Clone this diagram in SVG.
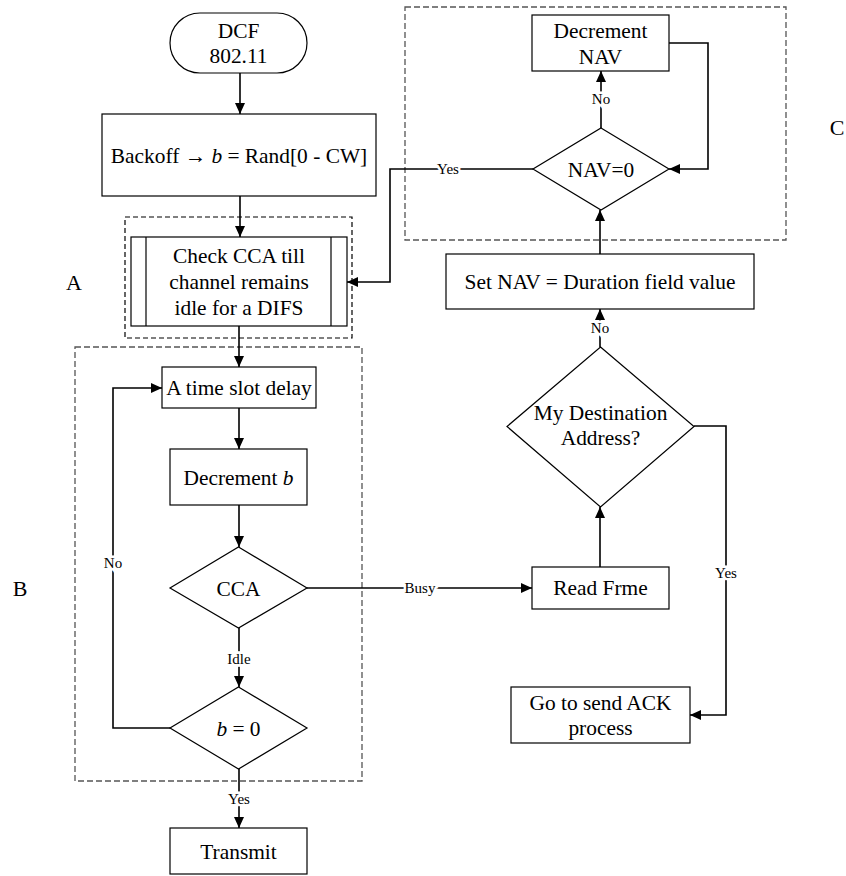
<svg xmlns="http://www.w3.org/2000/svg" width="846" height="876" viewBox="0 0 846 876">
<style>
.n{fill:#fff;stroke:#000;stroke-width:1.2}
.t{font-family:'Liberation Serif','Times New Roman','DejaVu Serif',serif;font-size:21.4px;fill:#000;text-anchor:middle}
.lab{font-family:'Liberation Serif','Times New Roman','DejaVu Serif',serif;font-size:15px;fill:#000;text-anchor:middle;stroke:#fff;stroke-width:5;paint-order:stroke;dominant-baseline:central}
.big{font-family:'Liberation Serif','Times New Roman','DejaVu Serif',serif;font-size:22px;fill:#000;text-anchor:middle}
.ca{fill:none;stroke:#000;stroke-width:1.6;marker-end:url(#ah)}
.g{fill:none;stroke:#555;stroke-width:1.3;stroke-dasharray:6,3}
.gk{fill:none;stroke:#000;stroke-width:1.2;stroke-dasharray:5,3}
</style>
<defs>
<marker id="ah" markerUnits="userSpaceOnUse" markerWidth="12" markerHeight="10" refX="11" refY="5" orient="auto">
<path d="M0,0 L11,5 L0,10 z" fill="#000"/>
</marker>
</defs>
<rect width="846" height="876" fill="#fff"/>

<g id="groups">
<rect class="gk" x="125" y="217" width="227" height="121"/>
<rect class="g" x="75" y="347" width="287" height="434"/>
<rect class="g" x="405" y="7" width="381" height="233"/>
<text class="big" x="74" y="290">A</text>
<text class="big" x="20" y="596">B</text>
<text class="big" x="837" y="135">C</text>
</g>

<g id="connectors">
<path class="ca" d="M240,73 V114"/>
<path class="ca" d="M240,196 V237"/>
<path class="ca" d="M239,326 V367"/>
<path class="ca" d="M239,408 V449"/>
<path class="ca" d="M239,505 V547"/>
<path class="ca" d="M239,628 V687"/>
<path class="ca" d="M239,769 V828"/>
<path class="ca" d="M170,728 H113 V388 H162"/>
<path class="ca" d="M307,588 H532"/>
<path class="ca" d="M600,567 V507"/>
<path class="ca" d="M694,426 H726 V715 H690"/>
<path class="ca" d="M600,347 V309"/>
<path class="ca" d="M600,254 V210"/>
<path class="ca" d="M601,128 V71"/>
<path class="ca" d="M669,43 H708 V169 H669"/>
<path class="ca" d="M533,169 H390 V282 H347"/>
<text class="lab" x="239" y="659">Idle</text>
<text class="lab" x="239" y="799">Yes</text>
<text class="lab" x="113" y="563">No</text>
<text class="lab" x="420" y="588">Busy</text>
<text class="lab" x="726" y="573">Yes</text>
<text class="lab" x="600" y="328">No</text>
<text class="lab" x="601" y="99">No</text>
<text class="lab" x="448" y="169">Yes</text>
</g>

<g id="dcf">
<rect class="n" x="170" y="13" width="137" height="60" rx="30" ry="30"/>
<text class="t" x="238.5" y="38">DCF</text>
<text class="t" x="238.5" y="63">802.11</text>
</g>

<g id="backoff">
<rect class="n" x="102" y="114" width="274" height="82"/>
<text class="t" x="239" y="163">Backoff → <tspan font-style="italic">b</tspan> = Rand[0 - CW]</text>
</g>

<g id="checkcca">
<rect class="n" x="131" y="237" width="216" height="89"/>
<line class="n" x1="146" y1="237" x2="146" y2="326"/>
<line class="n" x1="331" y1="237" x2="331" y2="326"/>
<text class="t" x="239" y="263">Check CCA till</text>
<text class="t" x="239" y="289">channel remains</text>
<text class="t" x="239" y="315">idle for a DIFS</text>
</g>

<g id="timeslot">
<rect class="n" x="162" y="367" width="154" height="41"/>
<text class="t" x="239" y="395">A time slot delay</text>
</g>

<g id="decb">
<rect class="n" x="170" y="449" width="137" height="56"/>
<text class="t" x="238.5" y="485">Decrement <tspan font-style="italic">b</tspan></text>
</g>

<g id="cca">
<polygon class="n" points="238.5,547 307,588 238.5,628 170,588"/>
<text class="t" x="238.5" y="596">CCA</text>
</g>

<g id="bzero">
<polygon class="n" points="238.5,687 307,728 238.5,769 170,728"/>
<text class="t" x="238.5" y="736"><tspan font-style="italic">b</tspan> = 0</text>
</g>

<g id="transmit">
<rect class="n" x="170" y="828" width="137" height="46"/>
<text class="t" x="238.5" y="859">Transmit</text>
</g>

<g id="readframe">
<rect class="n" x="532" y="567" width="137" height="42"/>
<text class="t" x="600.5" y="595">Read Frme</text>
</g>

<g id="mydest">
<polygon class="n" points="600.5,347 694,426.5 600.5,507 507,426.5"/>
<text class="t" x="600.5" y="420">My Destination</text>
<text class="t" x="600.5" y="445">Address?</text>
</g>

<g id="ack">
<rect class="n" x="511" y="687" width="179" height="56"/>
<text class="t" x="600.5" y="710">Go to send ACK</text>
<text class="t" x="600.5" y="735">process</text>
</g>

<g id="setnav">
<rect class="n" x="446" y="254" width="308" height="55"/>
<text class="t" x="600" y="289">Set NAV = Duration field value</text>
</g>

<g id="navzero">
<polygon class="n" points="601,128 669,169 601,210 533,169"/>
<text class="t" x="601" y="177">NAV=0</text>
</g>

<g id="decnav">
<rect class="n" x="532" y="15" width="137" height="56"/>
<text class="t" x="600.5" y="38">Decrement</text>
<text class="t" x="600.5" y="64">NAV</text>
</g>
</svg>
